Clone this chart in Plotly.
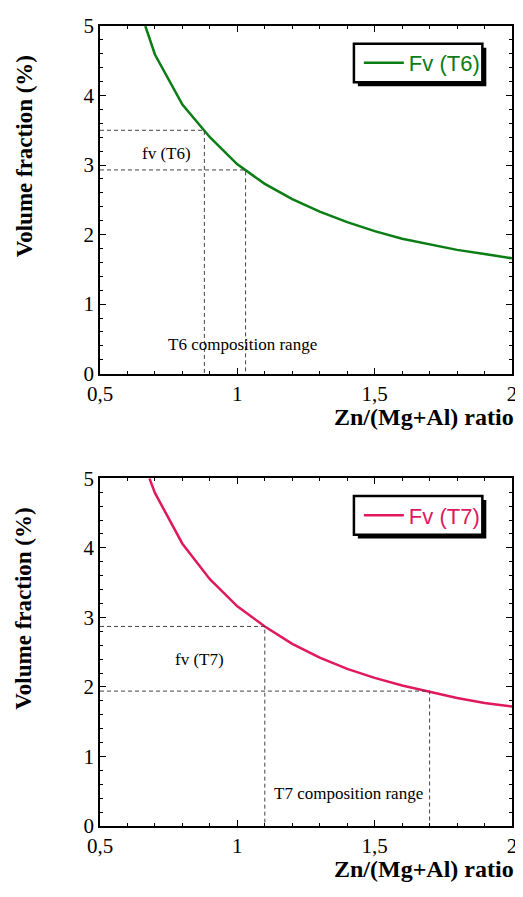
import plotly.graph_objects as go
from plotly.subplots import make_subplots

# ---- data ----
ratio_t6 = [0.665, 0.7, 0.8, 0.9, 1.0, 1.1, 1.2, 1.3, 1.4, 1.5, 1.6, 1.7, 1.8, 1.9, 2.0]
fv_t6 = [5.0, 4.59, 3.87, 3.40, 3.01, 2.73, 2.51, 2.33, 2.18, 2.05, 1.94, 1.86, 1.78, 1.72, 1.66]
ratio_t7 = [0.68, 0.7, 0.8, 0.9, 1.0, 1.1, 1.2, 1.3, 1.4, 1.5, 1.6, 1.7, 1.8, 1.9, 2.0]
fv_t7 = [5.0, 4.79, 4.06, 3.55, 3.16, 2.87, 2.62, 2.42, 2.26, 2.13, 2.02, 1.93, 1.84, 1.77, 1.72]

t6_range = [0.88, 1.03]
t6_fv = [3.5, 2.93]
t7_range = [1.10, 1.70]
t7_fv = [2.87, 1.94]

x_tickvals = [0.5, 1, 1.5, 2]
x_ticktext = ["0,5", "1", "1,5", "2"]
y_tickvals = [0, 1, 2, 3, 4, 5]

GREEN = "#0a7d14"
PINK = "#e0185e"
DASH = "#444444"
SERIF = "Liberation Serif, Times New Roman, serif"
SANS = "Liberation Sans, Arial, sans-serif"

W, H = 515, 881
L, R, T, B = 92, 6, 8, 63
PL, PR, PT, PB = 100, 517, 16, 826  # plot area edges in page pixels

def px(x):
    return (x - PL) / (PR - PL)

def py(y):
    return (PB - y) / (PB - PT)

fig = make_subplots(rows=2, cols=1, vertical_spacing=106 / 810)

def add_panel(row, xs, ys, name, color, rng, fvs, legend):
    fig.add_trace(go.Scatter(x=xs, y=ys, mode="lines", name=name,
                             line=dict(color=color, width=2.5), legend=legend),
                  row=row, col=1)
    for xr, fv in zip(rng, fvs):
        fig.add_trace(go.Scatter(x=[0.5, xr, xr], y=[fv, fv, 0], mode="lines",
                                 line=dict(color=DASH, width=1, dash="4px,3px"),
                                 showlegend=False, hoverinfo="skip"),
                      row=row, col=1)

add_panel(1, ratio_t6, fv_t6, "Fv (T6)", GREEN, t6_range, t6_fv, "legend")
add_panel(2, ratio_t7, fv_t7, "Fv (T7)", PINK, t7_range, t7_fv, "legend2")

axis_common = dict(showgrid=False, zeroline=False, showline=True, linecolor="black",
                   linewidth=1.5, mirror="allticks", ticks="inside", ticklen=6,
                   tickwidth=1, tickcolor="black",
                   tickfont=dict(family=SERIF, size=21, color="black"))
for r in (1, 2):
    fig.update_xaxes(range=[0.5, 2], tickvals=x_tickvals, ticktext=x_ticktext,
                     minor=dict(dtick=0.1, tick0=0.5, ticks="inside", ticklen=3,
                                tickcolor="black", tickwidth=1),
                     row=r, col=1, **axis_common)
    fig.update_yaxes(range=[0, 5], tickvals=y_tickvals,
                     minor=dict(dtick=0.2, tick0=0, ticks="inside", ticklen=3,
                                tickcolor="black", tickwidth=1),
                     row=r, col=1, **axis_common)

# legend boxes (frame + drop shadow) drawn as shapes; legends sit inside them
BOX_L, BOX_R, BOX_H = 357, 487, 39
leg_common = dict(bgcolor="rgba(0,0,0,0)", borderwidth=0, xanchor="left", yanchor="middle",
                  itemwidth=40, tracegroupgap=0, valign="middle")
fig.update_layout(
    legend=dict(x=px(BOX_L + 5), y=py(34 + BOX_H / 2),
                font=dict(family=SANS, size=22, color=GREEN), **leg_common),
    legend2=dict(x=px(BOX_L + 5), y=py(492 + BOX_H / 2),
                 font=dict(family=SANS, size=22, color=PINK), **leg_common),
)
for top in (34, 492):
    fig.add_shape(type="rect", xref="paper", yref="paper",
                  x0=px(BOX_L + 4), x1=px(BOX_R + 4), y0=py(top + BOX_H + 4), y1=py(top + 4),
                  fillcolor="black", line=dict(width=0), layer="above")
    fig.add_shape(type="rect", xref="paper", yref="paper",
                  x0=px(BOX_L), x1=px(BOX_R), y0=py(top + BOX_H), y1=py(top),
                  fillcolor="white", line=dict(color="black", width=2.5), layer="above")

ann = []
for ycen in (148, 606):
    ann.append(dict(text="<b>Volume fraction (%)</b>", textangle=-90, x=px(23), y=py(ycen),
                    xanchor="center", yanchor="middle",
                    xref="paper", yref="paper", showarrow=False,
                    font=dict(family=SERIF, size=23, color="black")))
for ycen in (412, 870):
    ann.append(dict(text="<b>Zn/(Mg+Al) ratio</b>", x=1.0, y=py(ycen), xanchor="right",
                    yanchor="middle", xref="paper", yref="paper", showarrow=False, xshift=4,
                    font=dict(family=SERIF, size=24, color="black")))
ann.append(dict(text="fv (T6)", x=0.741, y=3.17, xref="x", yref="y", showarrow=False,
                font=dict(family=SERIF, size=17, color="black")))
ann.append(dict(text="T6 composition range", x=1.02, y=0.42, xref="x", yref="y", showarrow=False,
                font=dict(family=SERIF, size=17, color="black")))
ann.append(dict(text="fv (T7)", x=0.863, y=2.40, xref="x2", yref="y2", showarrow=False,
                font=dict(family=SERIF, size=17, color="black")))
ann.append(dict(text="T7 composition range", x=1.406, y=0.47, xref="x2", yref="y2", showarrow=False,
                font=dict(family=SERIF, size=17, color="black")))

fig.update_layout(width=W, height=H, margin=dict(l=L, r=R, t=T, b=B),
                  plot_bgcolor="white", paper_bgcolor="white", annotations=ann,
                  showlegend=True)

fig.write_html("out.html")
